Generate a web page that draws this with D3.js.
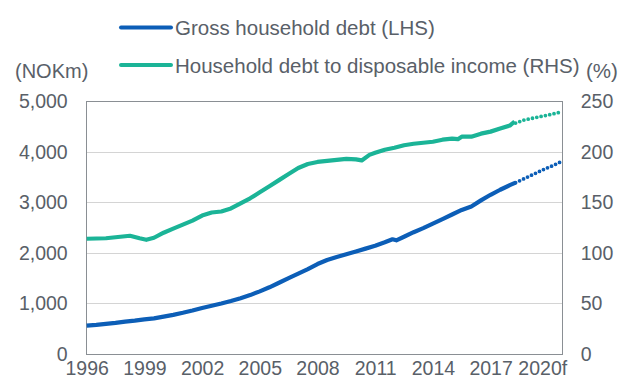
<!DOCTYPE html>
<html>
<head>
<meta charset="utf-8">
<script src="https://cdn.jsdelivr.net/npm/d3@7"></script>
<style>
  body { margin: 0; background: #fff; }
  text { font-family: "Liberation Sans", Arial, sans-serif; fill: #596068; }
</style>
</head>
<body>
<div id="chart"></div>
<script>
// Gross household debt (NOKm, LHS) - actual, half-yearly readings
var debtDates = [1996.0, 1996.5, 1997.0, 1997.5, 1998.0, 1998.5, 1999.0, 1999.5, 2000.0, 2000.5,
  2001.0, 2001.5, 2002.0, 2002.5, 2003.0, 2003.5, 2004.0, 2004.5, 2005.0, 2005.5,
  2006.0, 2006.5, 2007.0, 2007.5, 2008.0, 2008.5, 2009.0, 2009.5, 2010.0, 2010.5,
  2011.0, 2011.5, 2011.9, 2012.1, 2012.5, 2013.0, 2013.5, 2014.0, 2014.5, 2015.0,
  2015.5, 2016.0, 2016.5, 2017.0, 2017.5, 2018.0, 2018.3];
var debtValues = [560, 575, 595, 615, 640, 660, 685, 705, 740, 775,
  815, 860, 910, 955, 1000, 1050, 1105, 1165, 1240, 1320,
  1410, 1500, 1590, 1680, 1780, 1860, 1920, 1975, 2030, 2085,
  2140, 2210, 2270, 2250, 2320, 2410, 2490, 2580, 2670, 2760,
  2850, 2920, 3040, 3150, 3250, 3340, 3390];

// Gross household debt - forecast
var debtFcDates = [2018.3, 2018.75, 2019.25, 2019.75, 2020.25, 2020.7];
var debtFcValues = [3390, 3470, 3560, 3650, 3730, 3810];

// Household debt to disposable income (%, RHS) - actual
var ratioDates = [1996.0, 1997.0, 1997.75, 1998.25, 1998.75, 1999.1, 1999.5, 2000.0, 2000.5, 2001.0,
  2001.5, 2002.0, 2002.5, 2003.0, 2003.5, 2004.0, 2004.5, 2005.0, 2005.5, 2006.0,
  2006.5, 2007.0, 2007.5, 2008.0, 2008.5, 2009.0, 2009.5, 2010.0, 2010.3, 2010.7,
  2011.0, 2011.5, 2012.0, 2012.5, 2013.0, 2013.5, 2014.0, 2014.5, 2015.0, 2015.3,
  2015.5, 2016.0, 2016.5, 2017.0, 2017.5, 2018.0, 2018.25];
var ratioValues = [114, 114.5, 116, 117, 114.5, 113, 115, 120, 124, 128,
  132, 137, 140, 141, 144, 149, 154, 160, 166, 172,
  178, 184, 188, 190, 191, 192, 193, 192.5, 191.5, 197,
  199, 202, 204, 206.5, 208, 209, 210, 212, 213, 212.5,
  215, 215, 218, 220, 223, 226, 230];

// Household debt to disposable income - forecast
var ratioFcDates = [2018.3, 2018.75, 2019.25, 2019.75, 2020.25, 2020.7];
var ratioFcValues = [228.5, 231.5, 233.5, 235.5, 237.5, 239.5];

// Tick labels
var xTicks = [1996, 1999, 2002, 2005, 2008, 2011, 2014, 2017, 2020];
var xTickLabels = ["1996", "1999", "2002", "2005", "2008", "2011", "2014", "2017", "2020f"];
var leftTicks = [0, 1000, 2000, 3000, 4000, 5000];
var rightTicks = [0, 50, 100, 150, 200, 250];

var legendNames = ["Gross household debt (LHS)", "Household debt to disposable income (RHS)"];

var width = 631;
var height = 378;
var blue = "#0c5eb7";
var green = "#1bb497";

var svg = d3.select("#chart")
  .append("svg")
  .attr("width", width)
  .attr("height", height);

var xScale = d3.scaleLinear()
  .domain([1996, 2020.75])
  .range([86.7, 562.7]);

var yLeft = d3.scaleLinear()
  .domain([0, 5000])
  .range([354, 101.3]);

var yRight = d3.scaleLinear()
  .domain([0, 250])
  .range([354, 101.3]);

// gridlines
svg.append("g")
  .selectAll("line")
  .data(leftTicks)
  .enter()
  .append("line")
  .attr("x1", xScale.range()[0])
  .attr("x2", xScale.range()[1])
  .attr("y1", d => Math.round(yLeft(d)) + 0.5)
  .attr("y2", d => Math.round(yLeft(d)) + 0.5)
  .attr("stroke", "#d4d4d4")
  .attr("stroke-width", 1);

// plot frame
svg.append("rect")
  .attr("x", 86.5)
  .attr("y", Math.round(yLeft(5000)) + 0.5)
  .attr("width", 476)
  .attr("height", Math.round(yLeft(0)) - Math.round(yLeft(5000)))
  .attr("fill", "none")
  .attr("stroke", "#8a8f94")
  .attr("stroke-width", 1);

// left axis labels
var leftAxis = svg.append("g")
  .attr("transform", "translate(86.7,0)")
  .call(d3.axisLeft(yLeft).tickValues(leftTicks).tickFormat(d3.format(",")).tickSize(0).tickPadding(19));
leftAxis.select(".domain").remove();
leftAxis.selectAll("text")
  .attr("font-size", "19.5px")
  .attr("font-family", "Liberation Sans, Arial, sans-serif")
  .attr("fill", "#596068");

// right axis labels
var rightAxis = svg.append("g")
  .attr("transform", "translate(562.7,0)")
  .call(d3.axisRight(yRight).tickValues(rightTicks).tickSize(0).tickPadding(18));
rightAxis.select(".domain").remove();
rightAxis.selectAll("text")
  .attr("font-size", "19.5px")
  .attr("font-family", "Liberation Sans, Arial, sans-serif")
  .attr("fill", "#596068");

// bottom axis labels
var bottomAxis = svg.append("g")
  .attr("transform", "translate(0,354)")
  .call(d3.axisBottom(xScale).tickValues(xTicks)
    .tickFormat((d, i) => xTickLabels[i]).tickSize(0).tickPadding(7));
bottomAxis.select(".domain").remove();
bottomAxis.selectAll("text")
  .attr("font-size", "19.5px")
  .attr("font-family", "Liberation Sans, Arial, sans-serif")
  .attr("fill", "#596068")
  .attr("dx", (d, i) => i === xTicks.length - 1 ? "-6px" : "0");

// unit labels
svg.append("text")
  .attr("x", 15)
  .attr("y", 78)
  .attr("font-size", "20px")
  .text("(NOKm)");

svg.append("text")
  .attr("x", 586)
  .attr("y", 78)
  .attr("font-size", "20.5px")
  .text("(%)");

// lines
var debtLine = d3.line()
  .x((d, i) => xScale(debtDates[i]))
  .y(d => yLeft(d));
var debtFcLine = d3.line()
  .x((d, i) => xScale(debtFcDates[i]))
  .y(d => yLeft(d));
var ratioLine = d3.line()
  .x((d, i) => xScale(ratioDates[i]))
  .y(d => yRight(d));
var ratioFcLine = d3.line()
  .x((d, i) => xScale(ratioFcDates[i]))
  .y(d => yRight(d));

svg.append("path")
  .datum(ratioValues)
  .attr("d", ratioLine)
  .attr("fill", "none")
  .attr("stroke", green)
  .attr("stroke-width", 4.2)
  .attr("stroke-linejoin", "round");

svg.append("path")
  .datum(ratioFcValues)
  .attr("d", ratioFcLine)
  .attr("fill", "none")
  .attr("stroke", green)
  .attr("stroke-width", 3.8)
  .attr("stroke-linecap", "round")
  .attr("stroke-dasharray", "0,4.4");

svg.append("path")
  .datum(debtValues)
  .attr("d", debtLine)
  .attr("fill", "none")
  .attr("stroke", blue)
  .attr("stroke-width", 4.2)
  .attr("stroke-linejoin", "round");

svg.append("path")
  .datum(debtFcValues)
  .attr("d", debtFcLine)
  .attr("fill", "none")
  .attr("stroke", blue)
  .attr("stroke-width", 3.8)
  .attr("stroke-linecap", "round")
  .attr("stroke-dasharray", "0,4.4");

// legend
var legend = svg.append("g");
var legendColors = [blue, green];
var legendY = [27.5, 65];

legendNames.forEach(function(name, i) {
  legend.append("line")
    .attr("x1", 121)
    .attr("x2", 171)
    .attr("y1", legendY[i])
    .attr("y2", legendY[i])
    .attr("stroke", legendColors[i])
    .attr("stroke-width", 4)
    .attr("stroke-linecap", "round");
  legend.append("text")
    .attr("x", 175)
    .attr("y", legendY[i] + 7.5)
    .attr("font-size", "20.5px")
    .text(name);
});
</script>
</body>
</html>
